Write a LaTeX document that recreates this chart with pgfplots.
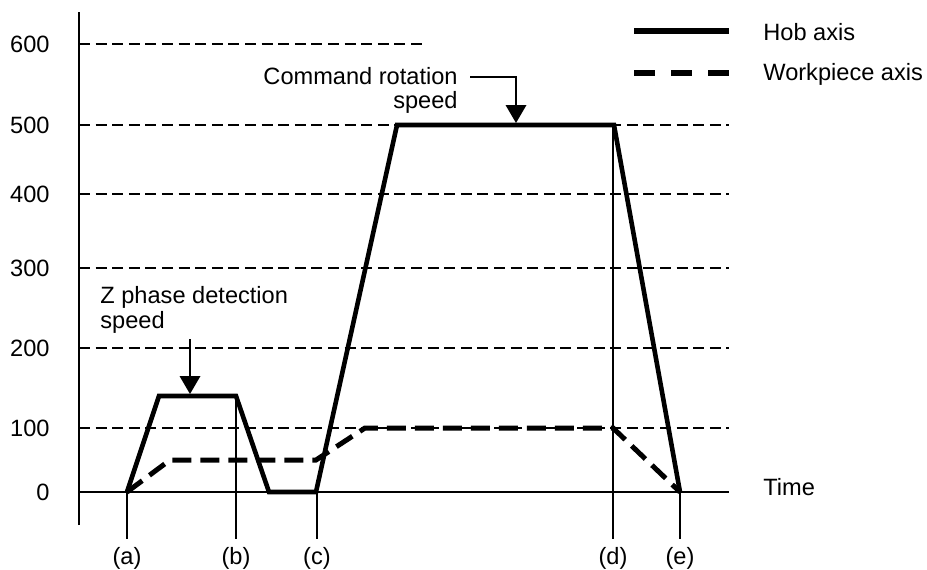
\documentclass[border=0pt]{standalone}
\usepackage{pgfplots}
\pgfplotsset{compat=1.18}
\usepackage{fontspec}
\setmainfont{Liberation Sans}
\begin{document}
\begin{tikzpicture}[font=\fontsize{11.8pt}{12.5pt}\selectfont]
\begin{axis}[
  at={(39.5pt,-262.5pt)}, anchor=south west,
  scale only axis, width=325pt, height=256.5pt,
  xmin=0, xmax=650, ymin=-51.5625, ymax=639.5,
  y coord trafo/.code={\pgfmathparse{ifthenelse((#1)<100, 0.64*(#1),
     ifthenelse((#1)<200, 64+0.8*((#1)-100),
     ifthenelse((#1)<300, 144+0.8*((#1)-200),
     ifthenelse((#1)<400, 224+0.74*((#1)-300),
     ifthenelse((#1)<500, 298+0.69*((#1)-400), 367+0.81*((#1)-500))))))}},
  axis line style={draw=none},
  tick style={draw=none},
  major tick length=0pt,
  ytick={0,100,200,300,400,500,600},
  yticklabels={0,100,200,300,400,500,600},
  yticklabel style={anchor=east, inner sep=0pt, xshift=-14.5pt},
  xtick={48,157,238,534,601},
  xticklabels={(a),(b),(c),(d),(e)},
  xticklabel style={anchor=north, inner sep=0pt, yshift=-11pt},
  clip=false,
]
% grid lines
\addplot[black, line width=0.55pt, dash pattern=on 5.5pt off 2.8pt] coordinates {(0,100) (650,100)};
\addplot[black, line width=0.55pt, dash pattern=on 5.5pt off 2.8pt] coordinates {(0,200) (650,200)};
\addplot[black, line width=0.55pt, dash pattern=on 5.5pt off 2.8pt] coordinates {(0,300) (650,300)};
\addplot[black, line width=0.55pt, dash pattern=on 5.5pt off 2.8pt] coordinates {(0,400) (650,400)};
\addplot[black, line width=0.55pt, dash pattern=on 5.5pt off 2.8pt] coordinates {(0,500) (650,500)};
\addplot[black, line width=0.55pt, dash pattern=on 5.5pt off 2.8pt] coordinates {(0,600) (344,600)};
% axes
\addplot[black, line width=0.8pt] coordinates {(0,-51.5625) (0,639.5)};
\addplot[black, line width=0.7pt] coordinates {(0,0) (650,0)};
% time marker lines
\addplot[black, line width=0.6pt] coordinates {(48,0) (48,-73.4)};
\addplot[black, line width=0.6pt] coordinates {(157,140) (157,-73.4)};
\addplot[black, line width=0.6pt] coordinates {(238,0) (238,-73.4)};
\addplot[black, line width=0.6pt] coordinates {(534,500) (534,-73.4)};
\addplot[black, line width=0.6pt] coordinates {(601,0) (601,-73.4)};
% workpiece axis
\addplot[black, line width=2.5pt, dash pattern=on 9.5pt off 4.5pt, line join=miter] coordinates {
  (48,0) (91,50) (237,50) (286,100) (534,100) (601,0)};
% hob axis
\addplot[black, line width=2.3pt, line join=miter] coordinates {
  (48,0) (80,140) (157,140) (190,0) (237,0) (318,500) (535,500) (601,0)};
\end{axis}
\begin{scope}[x=0.5pt, y=-0.5pt]
\path (0,0) rectangle (927,569);
% Z phase annotation
\node[anchor=base west, inner sep=0pt] at (100,303) {Z phase detection};
\node[anchor=base west, inner sep=0pt] at (100,328) {speed};
\draw[line width=0.6pt] (190,339) -- (190,377);
\fill (179.5,376) -- (200.5,376) -- (190,394) -- cycle;
% Command annotation
\node[anchor=base east, inner sep=0pt] at (458,84) {Command rotation};
\node[anchor=base east, inner sep=0pt] at (458,108) {speed};
\draw[line width=0.6pt] (470,77) -- (516,77) -- (516,106);
\fill (505.5,105) -- (526.5,105) -- (516,123) -- cycle;
% legend
\draw[line width=3pt] (634,30.5) -- (729,30.5);
\draw[line width=3pt, dash pattern=on 10.5pt off 8pt] (634,73) -- (729,73);
\node[anchor=base west, inner sep=0pt] at (763,40) {Hob axis};
\node[anchor=base west, inner sep=0pt] at (763,80) {Workpiece axis};
\node[anchor=base west, inner sep=0pt] at (763,495) {Time};
\end{scope}
\end{tikzpicture}
\end{document}
